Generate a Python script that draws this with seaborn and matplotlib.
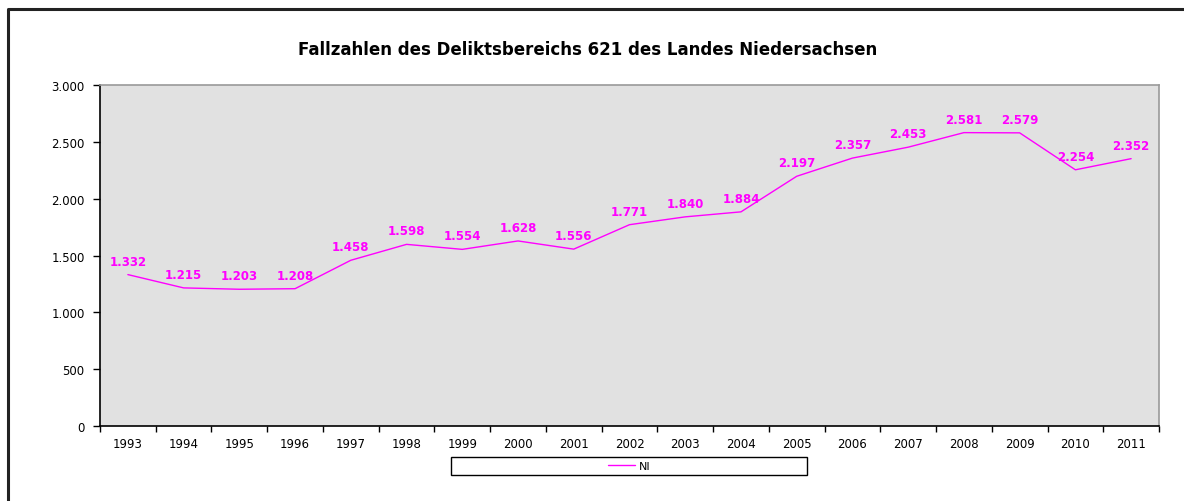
import pandas as pd
import matplotlib.pyplot as plt
import seaborn as sns
import numpy as np
from matplotlib.lines import Line2D
from matplotlib.patches import Rectangle
from matplotlib.ticker import FuncFormatter, FixedLocator

# Daten: Fallzahlen Deliktsbereich 621, Niedersachsen
jahre = ['1993', '1994', '1995', '1996', '1997', '1998', '1999', '2000', '2001', '2002',
         '2003', '2004', '2005', '2006', '2007', '2008', '2009', '2010', '2011']
fallzahlen = [1332, 1215, 1203, 1208, 1458, 1598, 1554, 1628, 1556, 1771,
              1840, 1884, 2197, 2357, 2453, 2581, 2579, 2254, 2352]
serie = 'NI'
titel = 'Fallzahlen des Deliktsbereichs 621 des Landes Niedersachsen'

df = pd.DataFrame({'Jahr': jahre, 'Fälle': fallzahlen})

sns.set_style('white')
plt.rcParams['font.family'] = ['DejaVu Sans']
plt.rcParams['text.color'] = 'black'
plt.rcParams['xtick.color'] = 'black'
plt.rcParams['ytick.color'] = 'black'
plt.rcParams['xtick.labelcolor'] = 'black'
plt.rcParams['ytick.labelcolor'] = 'black'

W, H = 1184, 502
fig = plt.figure(figsize=(W / 100, H / 100), dpi=100)
ax = fig.add_axes([100 / W, 1 - 427 / H, 1059 / W, (427 - 86) / H])
ax.set_facecolor('#e1e1e1')

sns.lineplot(data=df, x='Jahr', y='Fälle', color='#ff00ff', linewidth=1.0,
             ax=ax, legend=False, sort=False)

# Datenbeschriftungen
fmt = lambda v: f'{int(v):,}'.replace(',', '.')
for i, v in enumerate(fallzahlen):
    ax.annotate(fmt(v), (i, v), xytext=(0, 5), textcoords='offset points',
                ha='center', va='bottom', color='#ff00ff', fontsize=8.5,
                fontweight='bold')

ax.set_xlim(-0.5, len(jahre) - 0.5)
ax.set_ylim(0, 3000)
ax.yaxis.set_major_locator(FixedLocator(np.arange(0, 3001, 500)))
ax.yaxis.set_major_formatter(FuncFormatter(lambda v, p: fmt(v)))
ax.set_xticks(range(len(jahre)))
ax.set_xticklabels(jahre)
ax.xaxis.set_minor_locator(FixedLocator(np.arange(-0.5, len(jahre), 1.0)))
ax.tick_params(axis='x', which='major', length=0, pad=8, labelsize=8.5)
ax.tick_params(axis='x', which='minor', length=4, width=1, direction='out',
               color='black', bottom=True)
ax.tick_params(axis='y', which='major', length=5, width=1, direction='out',
               color='black', left=True, pad=6, labelsize=8.5)
ax.set_xlabel('')
ax.set_ylabel('')

for s in ['left', 'bottom']:
    ax.spines[s].set_color('black')
    ax.spines[s].set_linewidth(1.2)
for s in ['top', 'right']:
    ax.spines[s].set_visible(True)
    ax.spines[s].set_color('#9a9a9a')
    ax.spines[s].set_linewidth(1.2)

fig.text(588 / W, 1 - 50 / H, titel, ha='center', va='center',
         fontsize=12, fontweight='bold', color='black')

# Legende mit Rahmen
fig.patches.append(Rectangle((451 / W, 1 - 476 / H), (807 - 451) / W, 18 / H,
                             transform=fig.transFigure, fill=False,
                             edgecolor='black', linewidth=1.0))
fig.legend(handles=[Line2D([], [], color='#ff00ff', linewidth=1.0, label=serie)],
           loc='center', bbox_to_anchor=(629 / W, 1 - 467 / H), frameon=False,
           fontsize=8, handlelength=2.5, handletextpad=0.3)

# äußerer Diagrammrahmen
fig.lines.append(Line2D([8 / W, 8 / W, 1.0], [0.0, 1 - 10 / H, 1 - 10 / H],
                        transform=fig.transFigure, color='#222222', linewidth=2.2))

fig.savefig('out.png', dpi=100)
